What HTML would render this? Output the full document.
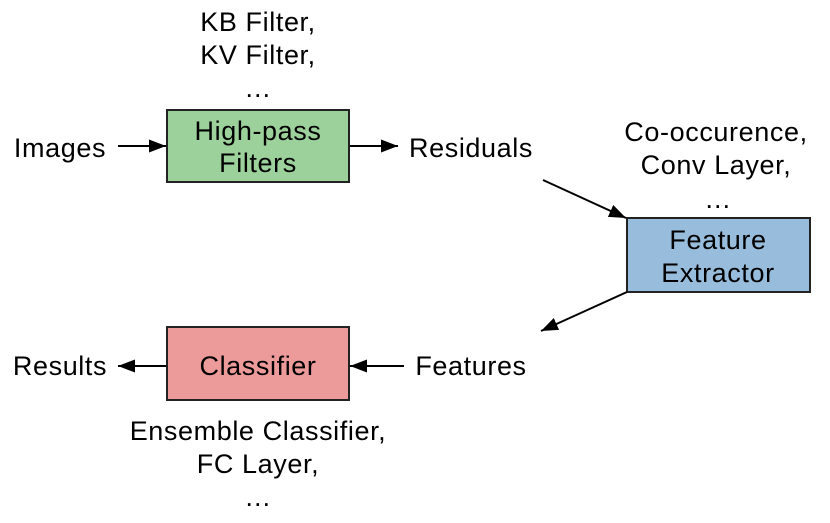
<!DOCTYPE html>
<html><head><style>html,body{margin:0;padding:0;background:#fff;}</style></head>
<body>
<svg width="830" height="518" viewBox="0 0 830 518" xmlns="http://www.w3.org/2000/svg" font-family="Liberation Sans, Arial, sans-serif" font-size="27" letter-spacing="0.6" fill="#000">
<defs>
<marker id="a" markerWidth="17" markerHeight="13" refX="17" refY="6.5" orient="auto" markerUnits="userSpaceOnUse">
<path d="M0,0 L17,6.5 L0,13 z" fill="#000"/>
</marker>
</defs>
<rect x="167" y="110" width="182" height="72" fill="#9dd19b" stroke="#222" stroke-width="2"/>
<rect x="627" y="218" width="183" height="74" fill="#98bcdb" stroke="#222" stroke-width="2"/>
<rect x="167" y="327" width="182" height="73" fill="#ec9a9a" stroke="#222" stroke-width="2"/>
<g stroke="#000" stroke-width="2" fill="none">
<line x1="118" y1="146" x2="166" y2="146" marker-end="url(#a)"/>
<line x1="350" y1="146" x2="398" y2="146" marker-end="url(#a)"/>
<line x1="543" y1="180" x2="626" y2="218" marker-end="url(#a)"/>
<line x1="627" y1="292" x2="541" y2="331" marker-end="url(#a)"/>
<line x1="404" y1="366" x2="350" y2="366" marker-end="url(#a)"/>
<line x1="166" y1="366" x2="118" y2="366" marker-end="url(#a)"/>
</g>
<g text-anchor="middle">
<text x="258" y="31">KB Filter,</text>
<text x="258" y="64">KV Filter,</text>
<text x="258" y="97">…</text>
<text x="258" y="140">High-pass</text>
<text x="258" y="172">Filters</text>
<text x="60" y="157">Images</text>
<text x="471" y="157">Residuals</text>
<text x="716" y="141">Co-occurence,</text>
<text x="716" y="174">Conv Layer,</text>
<text x="718" y="208">…</text>
<text x="718" y="249">Feature</text>
<text x="718" y="282">Extractor</text>
<text x="258" y="375">Classifier</text>
<text x="60" y="375">Results</text>
<text x="471" y="375">Features</text>
<text x="258" y="440">Ensemble Classifier,</text>
<text x="258" y="473">FC Layer,</text>
<text x="258" y="506">…</text>
</g>
</svg>
</body></html>
